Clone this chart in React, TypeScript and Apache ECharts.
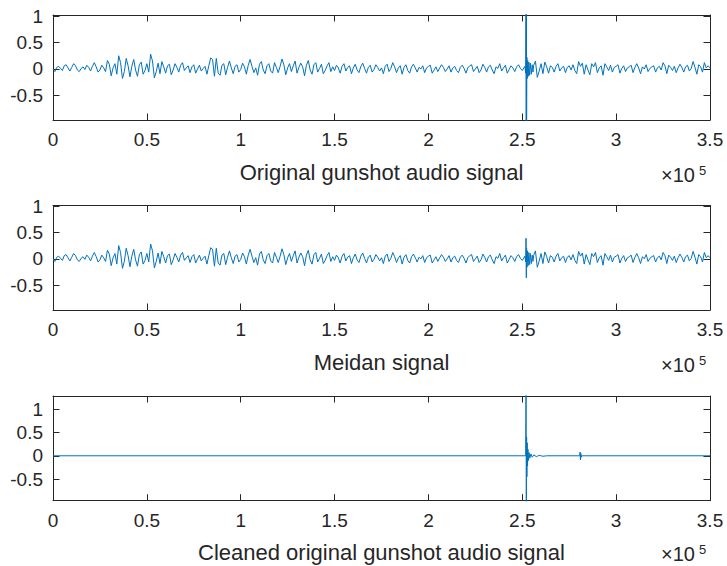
import React, { useEffect, useRef } from 'react';
import * as echarts from 'echarts';

// ---------- data ----------
const SAMPLE_STEP = 1000; // samples between successive base values
const X_MAX = 350000;

// Median-filtered signal, one value per 1000 samples (0 .. 350000)
const medianBase = [
  0.00, -0.05, 0.03, 0.05, 0.01, -0.03, 0.06, 0.08, 0.02, -0.04,
  0.03, 0.10, 0.06, -0.02, -0.05, 0.01, 0.04, -0.01, 0.07, 0.03,
  -0.04, 0.05, 0.12, 0.04, -0.06, -0.02, 0.07, 0.02, -0.05, 0.16,
  0.09, -0.13, 0.02, 0.10, -0.10, 0.25, 0.12, -0.18, -0.05, 0.20,
  0.06, -0.15, 0.05, 0.18, -0.02, -0.14, 0.08, 0.13, -0.10, -0.03,
  0.10, -0.06, 0.28, 0.15, -0.17, -0.05, 0.11, -0.09, 0.14, 0.04,
  -0.08, 0.06, 0.09, -0.11, -0.02, 0.10, 0.03, -0.06, 0.07, 0.12,
  -0.03, 0.02, 0.06, -0.07, 0.04, 0.08, -0.08, 0.00, 0.07, -0.04,
  0.01, 0.05, -0.10, 0.06, 0.21, 0.18, -0.14, 0.20, -0.08, -0.12,
  0.07, 0.10, -0.11, 0.03, 0.15, 0.02, -0.09, 0.05, 0.08, -0.06,
  -0.01, 0.11, 0.04, -0.10, 0.07, 0.18, 0.05, -0.07, 0.02, -0.12,
  0.09, 0.14, -0.02, -0.09, 0.06, 0.10, -0.04, -0.08, 0.12, 0.03,
  -0.07, 0.05, 0.19, 0.08, -0.11, 0.02, 0.10, -0.05, 0.06, 0.15,
  -0.08, 0.03, 0.11, 0.04, -0.13, 0.07, 0.16, -0.02, -0.10, 0.08,
  0.12, -0.06, 0.01, 0.09, -0.09, -0.03, 0.06, 0.12, -0.05, 0.04,
  -0.03, 0.07, 0.02, -0.08, 0.05, 0.10, -0.04, 0.03, 0.06, -0.09,
  0.02, 0.09, -0.02, -0.07, 0.05, 0.11, 0.01, -0.08, 0.03, 0.07,
  -0.06, -0.01, 0.08, 0.03, -0.04, 0.02, -0.09, 0.05, 0.09, -0.05,
  0.01, 0.12, 0.04, -0.07, 0.02, 0.06, -0.10, 0.03, 0.08, -0.03,
  -0.08, 0.04, 0.09, 0.02, -0.06, 0.03, 0.00, 0.06, -0.07, 0.02,
  0.05, 0.07, -0.08, -0.02, 0.04, -0.05, 0.02, 0.08, 0.03, -0.05,
  0.00, 0.06, -0.06, 0.02, 0.05, -0.03, -0.07, 0.03, 0.07, 0.01,
  -0.08, 0.02, 0.06, 0.08, -0.05, 0.00, 0.05, -0.07, -0.02, 0.09,
  0.03, -0.06, 0.04, 0.07, -0.02, -0.09, 0.04, 0.01, 0.10, -0.04,
  0.02, 0.07, -0.08, -0.01, 0.06, 0.02, -0.05, 0.04, 0.08, 0.01,
  -0.03, 0.06, 0.11, -0.15, 0.13, -0.13, 0.06, 0.15, -0.16, -0.04,
  0.10, -0.09, 0.13, 0.04, -0.08, 0.06, 0.03, -0.06, 0.05, 0.10,
  -0.04, 0.02, 0.05, -0.07, 0.03, 0.06, -0.02, 0.08, -0.03, -0.09,
  0.14, 0.05, 0.11, -0.10, 0.08, -0.02, -0.11, 0.10, 0.04, 0.12,
  -0.07, 0.02, 0.06, -0.12, 0.10, 0.04, -0.03, 0.07, -0.06, 0.03,
  0.05, 0.08, -0.08, 0.01, 0.06, -0.05, 0.02, 0.04, 0.07, -0.07,
  0.03, 0.10, 0.02, -0.09, 0.04, 0.00, 0.08, -0.05, 0.01, 0.04,
  0.06, -0.06, 0.02, 0.05, -0.02, 0.12, 0.06, -0.09, 0.07, 0.03,
  -0.03, 0.05, -0.07, 0.02, 0.09, 0.03, -0.06, 0.04, 0.07, -0.04,
  0.01, 0.14, 0.03, -0.10, 0.08, 0.04, -0.06, 0.12, 0.02, 0.06,
  0.02,
];

// Gunshot burst region (finer sampling) where the signals differ
const SPIKE_FROM = 251000;
const SPIKE_TO = 256000;

const originalSpikeX = [251400, 251800, 252000, 252100, 252200, 252300, 252450, 252650, 252900, 253200, 253500, 253900, 254300, 254800, 255300, 255700];
const originalSpikeY = [0.05, -0.08, 1.10, -1.05, 1.05, -1.00, 0.22, -0.18, 0.16, -0.14, 0.13, -0.12, 0.11, -0.10, 0.08, -0.06];

const medianSpikeX = [251400, 251800, 252000, 252150, 252300, 252500, 252800, 253100, 253500, 253900, 254300, 254800, 255300, 255700];
const medianSpikeY = [0.05, -0.06, 0.39, -0.36, 0.20, -0.16, 0.15, -0.13, 0.12, -0.11, 0.10, -0.09, 0.07, -0.05];

// Cleaned signal: flat except the gunshot and a small later event
const cleanedX = [0, 251800, 252000, 252150, 252300, 252450, 252600, 252800, 253000, 253300, 253600, 254000, 254600, 255300, 256200, 257500, 259000, 261000, 263000, 280600, 280800, 281000, 281200, 281400, 281600, 350000];
const cleanedY = [0, 0.00, 1.35, -1.00, 0.40, -0.45, 0.28, -0.22, 0.14, -0.10, 0.07, -0.05, 0.04, -0.03, 0.02, -0.02, 0.01, -0.01, 0.00, 0.00, 0.08, -0.09, 0.05, -0.03, 0.00, 0];

const panelTitles = ['Original gunshot audio signal', 'Meidan signal', 'Cleaned original gunshot audio signal'];
const yLimits = [
  [-0.97, 1.025],
  [-0.97, 1.01],
  [-0.966, 1.286],
];

// ---------- build series ----------
function basePairs(): number[][] {
  return medianBase.map((v, i) => [i * SAMPLE_STEP, v]);
}
function withSpike(xs: number[], ys: number[]): number[][] {
  const out = basePairs().filter((p) => p[0] < SPIKE_FROM || p[0] >= SPIKE_TO);
  xs.forEach((x, i) => out.push([x, ys[i]]));
  out.sort((a, b) => a[0] - b[0]);
  return out;
}
const originalData = withSpike(originalSpikeX, originalSpikeY);
const medianData = withSpike(medianSpikeX, medianSpikeY);
const cleanedData = cleanedX.map((x, i) => [x, cleanedY[i]]);
const seriesData = [originalData, medianData, cleanedData];

const FONT = '"Liberation Sans", Arial, Helvetica, sans-serif';
const AX = '#262626';
const LINE = '#0072BD';

export default function App() {
  const ref = useRef<HTMLDivElement>(null);
  useEffect(() => {
    if (!ref.current) return;
    const chart = echarts.init(ref.current, undefined, { renderer: 'svg' });
    const left = 53;
    const width = 657;
    const tops = [15, 205.5, 396];
    const heights = [105, 104.5, 104.7];

    const grid: any[] = [];
    const xAxis: any[] = [];
    const yAxis: any[] = [];
    const series: any[] = [];
    const graphic: any[] = [];

    const tick = { show: true, inside: true, length: 6.5, lineStyle: { color: AX, width: 1 } };
    const line = { show: true, onZero: false, lineStyle: { color: AX, width: 1 } };

    for (let i = 0; i < 3; i++) {
      grid.push({ left, top: tops[i], width, height: heights[i], containLabel: false });
      const xBase = {
        type: 'value', gridIndex: i, min: 0, max: X_MAX, interval: 50000,
        axisLine: line, axisTick: tick, splitLine: { show: false },
      };
      xAxis.push({
        ...xBase, position: 'bottom',
        axisLabel: {
          show: true, color: AX, fontSize: 19, fontFamily: FONT, margin: 10,
          formatter: (v: number) => String(Math.round((v / 100000) * 10) / 10),
        },
      });
      xAxis.push({ ...xBase, position: 'top', axisLabel: { show: false } });

      const yBase = {
        type: 'value', gridIndex: i, min: yLimits[i][0], max: yLimits[i][1], splitNumber: 4,
        axisLine: line, axisTick: tick, splitLine: { show: false },
      };
      yAxis.push({
        ...yBase, position: 'left',
        axisLabel: {
          show: true, color: AX, fontSize: 19, fontFamily: FONT, margin: 10,
          showMinLabel: false, showMaxLabel: false,
          formatter: (v: number) => {
            const h = v * 2;
            if (Math.abs(h - Math.round(h)) > 1e-6) return '';
            return String(Math.round(h) / 2);
          },
        },
      });
      yAxis.push({ ...yBase, position: 'right', axisLabel: { show: false } });

      series.push({
        type: 'line', xAxisIndex: 2 * i, yAxisIndex: 2 * i, data: seriesData[i],
        showSymbol: false, symbol: 'none', clip: true, silent: true,
        lineStyle: { color: LINE, width: 1 },
      });

      const bottom = tops[i] + heights[i];
      const shift = i === 2 ? -1.5 : 0;
      graphic.push({
        type: 'text', x: left + width / 2, y: bottom + 52,
        style: { text: panelTitles[i], fill: AX, font: `22px ${FONT}`, align: 'center', verticalAlign: 'middle' },
      });
      graphic.push({
        type: 'text', x: 661, y: bottom + 55 + shift,
        style: { text: '×10', fill: AX, font: `20px ${FONT}`, align: 'left', verticalAlign: 'middle' },
      });
      graphic.push({
        type: 'text', x: 699, y: bottom + 50 + shift,
        style: { text: '5', fill: AX, font: `13px ${FONT}`, align: 'left', verticalAlign: 'middle' },
      });
    }

    chart.setOption({
      animation: false,
      backgroundColor: '#ffffff',
      grid, xAxis, yAxis, series, graphic,
    });
    return () => chart.dispose();
  }, []);
  return <div ref={ref} style={{ width: 727, height: 566, position: 'absolute', left: 0, top: 0 }} />;
}
